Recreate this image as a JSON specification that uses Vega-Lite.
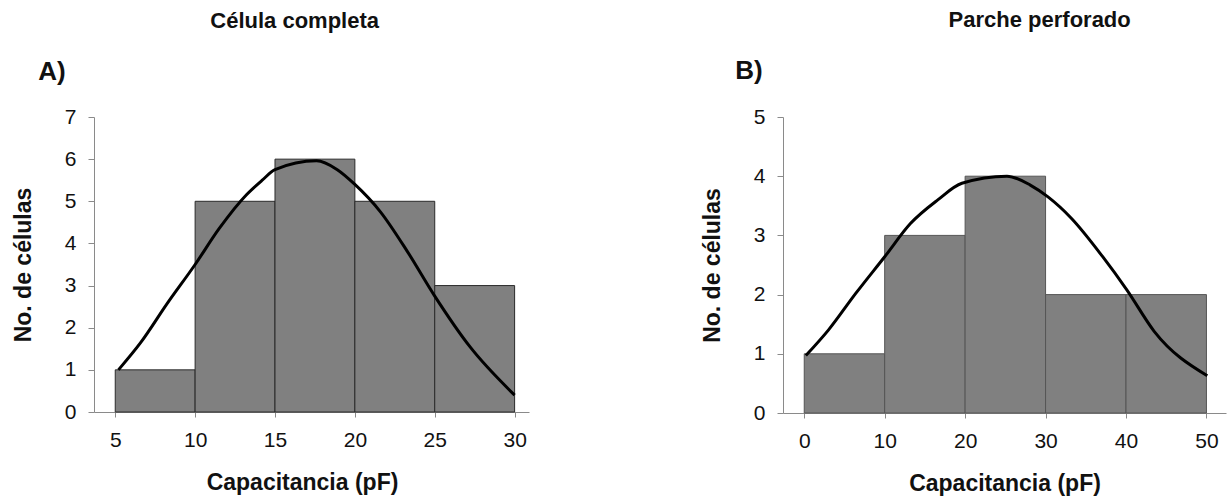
{
  "$schema": "https://vega.github.io/schema/vega-lite/v6.json",
  "background": "white",
  "padding": {"left": 12, "top": 9, "right": 2, "bottom": 2},
  "datasets": {
    "barsA": [
      {"x0": 5, "x1": 10, "n": 1},
      {"x0": 10, "x1": 15, "n": 5},
      {"x0": 15, "x1": 20, "n": 6},
      {"x0": 20, "x1": 25, "n": 5},
      {"x0": 25, "x1": 30, "n": 3}
    ],
    "curveA": [
      {"x": 5.2, "y": 1.0}, {"x": 6.6, "y": 1.65}, {"x": 8.3, "y": 2.6}, {"x": 10, "y": 3.5},
      {"x": 11.5, "y": 4.35}, {"x": 13.2, "y": 5.15}, {"x": 14.2, "y": 5.5}, {"x": 15, "y": 5.75},
      {"x": 17.6, "y": 5.96}, {"x": 18.9, "y": 5.75}, {"x": 20, "y": 5.4}, {"x": 21.6, "y": 4.75},
      {"x": 23.3, "y": 3.8}, {"x": 25, "y": 2.75}, {"x": 27.2, "y": 1.55}, {"x": 30, "y": 0.4}
    ],
    "barsB": [
      {"x0": 0, "x1": 10, "n": 1},
      {"x0": 10, "x1": 20, "n": 3},
      {"x0": 20, "x1": 30, "n": 4},
      {"x0": 30, "x1": 40, "n": 2},
      {"x0": 40, "x1": 50, "n": 2}
    ],
    "curveB": [
      {"x": 0.2, "y": 0.97}, {"x": 3.0, "y": 1.4}, {"x": 6.4, "y": 2.02}, {"x": 10, "y": 2.64},
      {"x": 13.2, "y": 3.2}, {"x": 16.6, "y": 3.6}, {"x": 19.6, "y": 3.88}, {"x": 25.2, "y": 4.0},
      {"x": 28.1, "y": 3.85}, {"x": 30.3, "y": 3.65}, {"x": 33.2, "y": 3.29}, {"x": 37.1, "y": 2.64},
      {"x": 40.1, "y": 2.08}, {"x": 43.5, "y": 1.38}, {"x": 50.1, "y": 0.63}
    ]
  },
  "config": {
    "view": {"stroke": null},
    "font": "Liberation Sans",
    "axis": {
      "grid": false,
      "domainColor": "#8a8a8a",
      "tickColor": "#8a8a8a",
      "labelColor": "#111111",
      "labelFont": "Liberation Sans",
      "labelFontSize": 21,
      "titleFont": "Liberation Sans",
      "titleFontSize": 23,
      "titleFontWeight": "bold",
      "titleColor": "#111111",
      "tickSize": 6,
      "labelPadding": 12
    },
    "title": {"font": "Liberation Sans", "fontWeight": "bold", "color": "#111111"}
  },
  "spacing": 172,
  "hconcat": [
    {
      "title": {"text": "Célula completa", "fontSize": 22, "offset": 26, "anchor": "middle", "dx": 24},
      "vconcat": [
        {
          "title": {"text": "A)", "fontSize": 26, "anchor": "start", "offset": 21, "dx": 26},
          "width": 435,
          "height": 295,
          "layer": [
            {
              "data": {"name": "barsA"},
              "mark": {"type": "rect", "fill": "#808080", "stroke": "#2a2a2a", "strokeWidth": 1},
              "encoding": {
                "x": {"field": "x0", "type": "quantitative", "scale": {"domain": [3.67, 30.9], "nice": false},
                      "axis": {"values": [5, 10, 15, 20, 25, 30], "format": "d", "title": "Capacitancia (pF)", "titlePadding": 21, "titleX": 208, "tickSize": 5}},
                "x2": {"field": "x1"},
                "y": {"field": "n", "type": "quantitative", "scale": {"domain": [0, 7], "nice": false},
                      "axis": {"values": [0, 1, 2, 3, 4, 5, 6, 7], "format": "d", "title": "No. de células", "titlePadding": 29}},
                "y2": {"datum": 0}
              }
            },
            {
              "data": {"name": "curveA"},
              "mark": {"type": "line", "color": "#000000", "strokeWidth": 3, "interpolate": "monotone"},
              "encoding": {
                "x": {"field": "x", "type": "quantitative"},
                "y": {"field": "y", "type": "quantitative"}
              }
            }
          ]
        }
      ]
    },
    {
      "title": {"text": "Parche perforado", "fontSize": 22, "offset": 26, "anchor": "middle", "dx": 76},
      "vconcat": [
        {
          "title": {"text": "B)", "fontSize": 26, "anchor": "start", "offset": 22, "dx": 34},
          "width": 443,
          "height": 296,
          "layer": [
            {
              "data": {"name": "barsB"},
              "mark": {"type": "rect", "fill": "#808080", "stroke": "#555555", "strokeWidth": 1},
              "encoding": {
                "x": {"field": "x0", "type": "quantitative", "scale": {"domain": [-2.64, 52.43], "nice": false},
                      "axis": {"values": [0, 10, 20, 30, 40, 50], "format": "d", "title": "Capacitancia (pF)", "titlePadding": 21, "tickSize": 5}},
                "x2": {"field": "x1"},
                "y": {"field": "n", "type": "quantitative", "scale": {"domain": [0, 5], "nice": false},
                      "axis": {"values": [0, 1, 2, 3, 4, 5], "format": "d", "title": "No. de células", "titlePadding": 29}},
                "y2": {"datum": 0}
              }
            },
            {
              "data": {"name": "curveB"},
              "mark": {"type": "line", "color": "#000000", "strokeWidth": 3, "interpolate": "monotone"},
              "encoding": {
                "x": {"field": "x", "type": "quantitative"},
                "y": {"field": "y", "type": "quantitative"}
              }
            }
          ]
        }
      ]
    }
  ]
}
